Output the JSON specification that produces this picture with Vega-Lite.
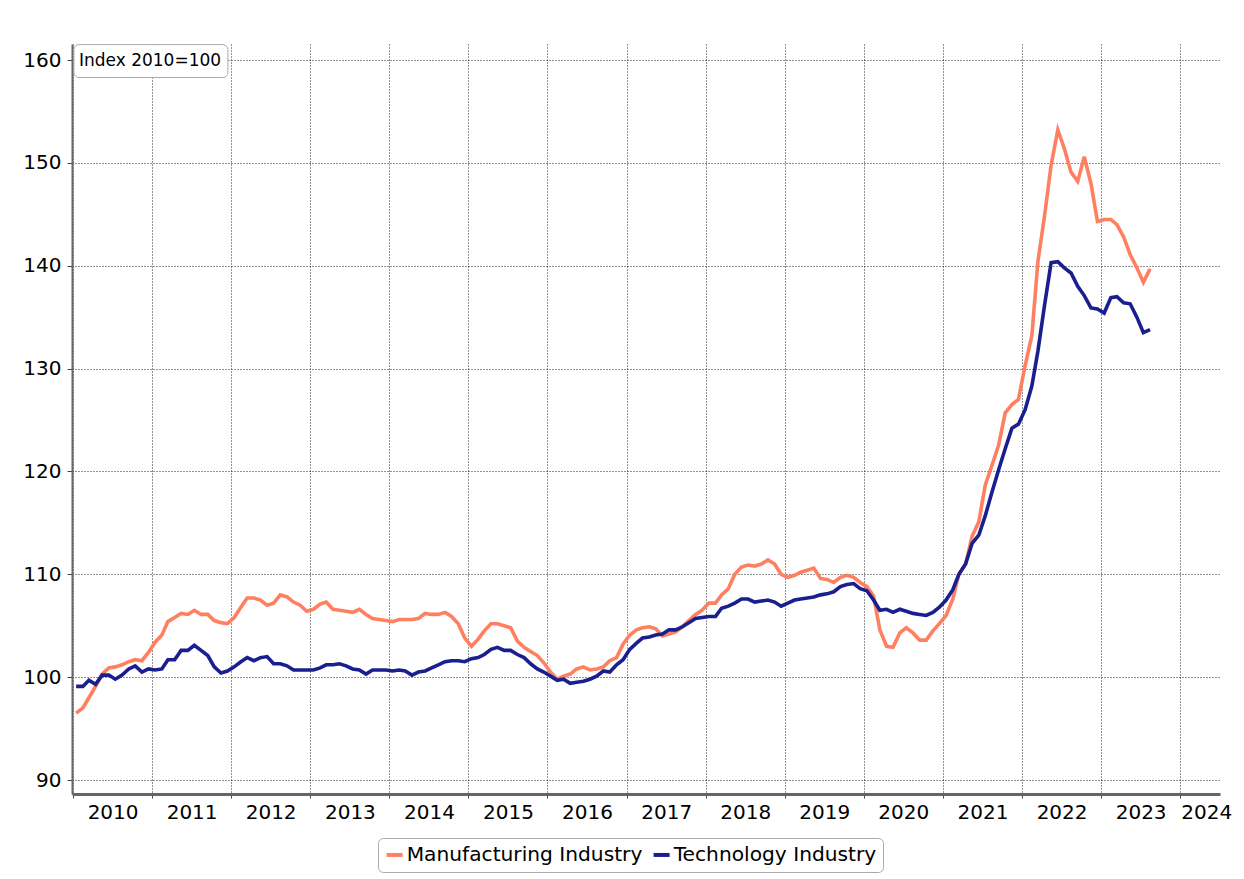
{
 "$schema": "https://vega.github.io/schema/vega-lite/v6.json",
 "width": 1148, "height": 750,
 "autosize": {"type": "none"},
 "padding": {"left": 72, "top": 44, "right": 24, "bottom": 85},
 "background": "white",
 "config": {"font": "DejaVu Sans", "view": {"stroke": null}},
 "data": {"values": [
{"date":"2010-01-15","Manufacturing Industry":96.5,"Technology Industry":99.1},
{"date":"2010-02-15","Manufacturing Industry":97.0,"Technology Industry":99.1},
{"date":"2010-03-15","Manufacturing Industry":98.0,"Technology Industry":99.7},
{"date":"2010-04-15","Manufacturing Industry":99.1,"Technology Industry":99.3},
{"date":"2010-05-15","Manufacturing Industry":100.3,"Technology Industry":100.2},
{"date":"2010-06-15","Manufacturing Industry":100.9,"Technology Industry":100.2},
{"date":"2010-07-15","Manufacturing Industry":101.0,"Technology Industry":99.8},
{"date":"2010-08-15","Manufacturing Industry":101.2,"Technology Industry":100.2},
{"date":"2010-09-15","Manufacturing Industry":101.5,"Technology Industry":100.8},
{"date":"2010-10-15","Manufacturing Industry":101.7,"Technology Industry":101.1},
{"date":"2010-11-15","Manufacturing Industry":101.6,"Technology Industry":100.5},
{"date":"2010-12-15","Manufacturing Industry":102.4,"Technology Industry":100.8},
{"date":"2011-01-15","Manufacturing Industry":103.4,"Technology Industry":100.7},
{"date":"2011-02-15","Manufacturing Industry":104.1,"Technology Industry":100.8},
{"date":"2011-03-15","Manufacturing Industry":105.4,"Technology Industry":101.7},
{"date":"2011-04-15","Manufacturing Industry":105.8,"Technology Industry":101.7},
{"date":"2011-05-15","Manufacturing Industry":106.2,"Technology Industry":102.6},
{"date":"2011-06-15","Manufacturing Industry":106.1,"Technology Industry":102.6},
{"date":"2011-07-15","Manufacturing Industry":106.5,"Technology Industry":103.1},
{"date":"2011-08-15","Manufacturing Industry":106.1,"Technology Industry":102.6},
{"date":"2011-09-15","Manufacturing Industry":106.1,"Technology Industry":102.1},
{"date":"2011-10-15","Manufacturing Industry":105.5,"Technology Industry":101.0},
{"date":"2011-11-15","Manufacturing Industry":105.3,"Technology Industry":100.4},
{"date":"2011-12-15","Manufacturing Industry":105.2,"Technology Industry":100.6},
{"date":"2012-01-15","Manufacturing Industry":105.8,"Technology Industry":101.0},
{"date":"2012-02-15","Manufacturing Industry":106.8,"Technology Industry":101.5},
{"date":"2012-03-15","Manufacturing Industry":107.7,"Technology Industry":101.9},
{"date":"2012-04-15","Manufacturing Industry":107.7,"Technology Industry":101.6},
{"date":"2012-05-15","Manufacturing Industry":107.5,"Technology Industry":101.9},
{"date":"2012-06-15","Manufacturing Industry":107.0,"Technology Industry":102.0},
{"date":"2012-07-15","Manufacturing Industry":107.2,"Technology Industry":101.3},
{"date":"2012-08-15","Manufacturing Industry":108.0,"Technology Industry":101.3},
{"date":"2012-09-15","Manufacturing Industry":107.8,"Technology Industry":101.1},
{"date":"2012-10-15","Manufacturing Industry":107.3,"Technology Industry":100.7},
{"date":"2012-11-15","Manufacturing Industry":107.0,"Technology Industry":100.7},
{"date":"2012-12-15","Manufacturing Industry":106.4,"Technology Industry":100.7},
{"date":"2013-01-15","Manufacturing Industry":106.6,"Technology Industry":100.7},
{"date":"2013-02-15","Manufacturing Industry":107.1,"Technology Industry":100.9},
{"date":"2013-03-15","Manufacturing Industry":107.3,"Technology Industry":101.2},
{"date":"2013-04-15","Manufacturing Industry":106.6,"Technology Industry":101.2},
{"date":"2013-05-15","Manufacturing Industry":106.5,"Technology Industry":101.3},
{"date":"2013-06-15","Manufacturing Industry":106.4,"Technology Industry":101.1},
{"date":"2013-07-15","Manufacturing Industry":106.3,"Technology Industry":100.8},
{"date":"2013-08-15","Manufacturing Industry":106.6,"Technology Industry":100.7},
{"date":"2013-09-15","Manufacturing Industry":106.1,"Technology Industry":100.3},
{"date":"2013-10-15","Manufacturing Industry":105.7,"Technology Industry":100.7},
{"date":"2013-11-15","Manufacturing Industry":105.6,"Technology Industry":100.7},
{"date":"2013-12-15","Manufacturing Industry":105.5,"Technology Industry":100.7},
{"date":"2014-01-15","Manufacturing Industry":105.4,"Technology Industry":100.6},
{"date":"2014-02-15","Manufacturing Industry":105.6,"Technology Industry":100.7},
{"date":"2014-03-15","Manufacturing Industry":105.6,"Technology Industry":100.6},
{"date":"2014-04-15","Manufacturing Industry":105.6,"Technology Industry":100.2},
{"date":"2014-05-15","Manufacturing Industry":105.7,"Technology Industry":100.5},
{"date":"2014-06-15","Manufacturing Industry":106.2,"Technology Industry":100.6},
{"date":"2014-07-15","Manufacturing Industry":106.1,"Technology Industry":100.9},
{"date":"2014-08-15","Manufacturing Industry":106.1,"Technology Industry":101.2},
{"date":"2014-09-15","Manufacturing Industry":106.3,"Technology Industry":101.5},
{"date":"2014-10-15","Manufacturing Industry":105.9,"Technology Industry":101.6},
{"date":"2014-11-15","Manufacturing Industry":105.2,"Technology Industry":101.6},
{"date":"2014-12-15","Manufacturing Industry":103.8,"Technology Industry":101.5},
{"date":"2015-01-15","Manufacturing Industry":103.0,"Technology Industry":101.8},
{"date":"2015-02-15","Manufacturing Industry":103.7,"Technology Industry":101.9},
{"date":"2015-03-15","Manufacturing Industry":104.5,"Technology Industry":102.2},
{"date":"2015-04-15","Manufacturing Industry":105.2,"Technology Industry":102.7},
{"date":"2015-05-15","Manufacturing Industry":105.2,"Technology Industry":102.9},
{"date":"2015-06-15","Manufacturing Industry":105.0,"Technology Industry":102.6},
{"date":"2015-07-15","Manufacturing Industry":104.8,"Technology Industry":102.6},
{"date":"2015-08-15","Manufacturing Industry":103.5,"Technology Industry":102.2},
{"date":"2015-09-15","Manufacturing Industry":102.9,"Technology Industry":101.9},
{"date":"2015-10-15","Manufacturing Industry":102.5,"Technology Industry":101.3},
{"date":"2015-11-15","Manufacturing Industry":102.1,"Technology Industry":100.8},
{"date":"2015-12-15","Manufacturing Industry":101.4,"Technology Industry":100.5},
{"date":"2016-01-15","Manufacturing Industry":100.5,"Technology Industry":100.1},
{"date":"2016-02-15","Manufacturing Industry":99.8,"Technology Industry":99.7},
{"date":"2016-03-15","Manufacturing Industry":100.1,"Technology Industry":99.8},
{"date":"2016-04-15","Manufacturing Industry":100.3,"Technology Industry":99.4},
{"date":"2016-05-15","Manufacturing Industry":100.8,"Technology Industry":99.5},
{"date":"2016-06-15","Manufacturing Industry":101.0,"Technology Industry":99.6},
{"date":"2016-07-15","Manufacturing Industry":100.7,"Technology Industry":99.8},
{"date":"2016-08-15","Manufacturing Industry":100.8,"Technology Industry":100.1},
{"date":"2016-09-15","Manufacturing Industry":101.0,"Technology Industry":100.6},
{"date":"2016-10-15","Manufacturing Industry":101.6,"Technology Industry":100.5},
{"date":"2016-11-15","Manufacturing Industry":101.9,"Technology Industry":101.2},
{"date":"2016-12-15","Manufacturing Industry":103.2,"Technology Industry":101.7},
{"date":"2017-01-15","Manufacturing Industry":104.1,"Technology Industry":102.7},
{"date":"2017-02-15","Manufacturing Industry":104.6,"Technology Industry":103.3},
{"date":"2017-03-15","Manufacturing Industry":104.8,"Technology Industry":103.8},
{"date":"2017-04-15","Manufacturing Industry":104.9,"Technology Industry":103.9},
{"date":"2017-05-15","Manufacturing Industry":104.7,"Technology Industry":104.1},
{"date":"2017-06-15","Manufacturing Industry":104.0,"Technology Industry":104.2},
{"date":"2017-07-15","Manufacturing Industry":104.2,"Technology Industry":104.6},
{"date":"2017-08-15","Manufacturing Industry":104.4,"Technology Industry":104.6},
{"date":"2017-09-15","Manufacturing Industry":104.9,"Technology Industry":104.9},
{"date":"2017-10-15","Manufacturing Industry":105.5,"Technology Industry":105.3},
{"date":"2017-11-15","Manufacturing Industry":106.1,"Technology Industry":105.7},
{"date":"2017-12-15","Manufacturing Industry":106.5,"Technology Industry":105.8},
{"date":"2018-01-15","Manufacturing Industry":107.2,"Technology Industry":105.9},
{"date":"2018-02-15","Manufacturing Industry":107.2,"Technology Industry":105.9},
{"date":"2018-03-15","Manufacturing Industry":108.0,"Technology Industry":106.7},
{"date":"2018-04-15","Manufacturing Industry":108.6,"Technology Industry":106.9},
{"date":"2018-05-15","Manufacturing Industry":110.0,"Technology Industry":107.2},
{"date":"2018-06-15","Manufacturing Industry":110.7,"Technology Industry":107.6},
{"date":"2018-07-15","Manufacturing Industry":110.9,"Technology Industry":107.6},
{"date":"2018-08-15","Manufacturing Industry":110.8,"Technology Industry":107.3},
{"date":"2018-09-15","Manufacturing Industry":111.0,"Technology Industry":107.4},
{"date":"2018-10-15","Manufacturing Industry":111.4,"Technology Industry":107.5},
{"date":"2018-11-15","Manufacturing Industry":111.0,"Technology Industry":107.3},
{"date":"2018-12-15","Manufacturing Industry":110.0,"Technology Industry":106.9},
{"date":"2019-01-15","Manufacturing Industry":109.7,"Technology Industry":107.2},
{"date":"2019-02-15","Manufacturing Industry":109.9,"Technology Industry":107.5},
{"date":"2019-03-15","Manufacturing Industry":110.2,"Technology Industry":107.6},
{"date":"2019-04-15","Manufacturing Industry":110.4,"Technology Industry":107.7},
{"date":"2019-05-15","Manufacturing Industry":110.6,"Technology Industry":107.8},
{"date":"2019-06-15","Manufacturing Industry":109.6,"Technology Industry":108.0},
{"date":"2019-07-15","Manufacturing Industry":109.5,"Technology Industry":108.1},
{"date":"2019-08-15","Manufacturing Industry":109.2,"Technology Industry":108.3},
{"date":"2019-09-15","Manufacturing Industry":109.7,"Technology Industry":108.8},
{"date":"2019-10-15","Manufacturing Industry":109.9,"Technology Industry":109.0},
{"date":"2019-11-15","Manufacturing Industry":109.7,"Technology Industry":109.1},
{"date":"2019-12-15","Manufacturing Industry":109.2,"Technology Industry":108.6},
{"date":"2020-01-15","Manufacturing Industry":108.8,"Technology Industry":108.4},
{"date":"2020-02-15","Manufacturing Industry":107.9,"Technology Industry":107.5},
{"date":"2020-03-15","Manufacturing Industry":104.6,"Technology Industry":106.5},
{"date":"2020-04-15","Manufacturing Industry":103.0,"Technology Industry":106.6},
{"date":"2020-05-15","Manufacturing Industry":102.9,"Technology Industry":106.3},
{"date":"2020-06-15","Manufacturing Industry":104.3,"Technology Industry":106.6},
{"date":"2020-07-15","Manufacturing Industry":104.8,"Technology Industry":106.4},
{"date":"2020-08-15","Manufacturing Industry":104.3,"Technology Industry":106.2},
{"date":"2020-09-15","Manufacturing Industry":103.6,"Technology Industry":106.1},
{"date":"2020-10-15","Manufacturing Industry":103.6,"Technology Industry":106.0},
{"date":"2020-11-15","Manufacturing Industry":104.5,"Technology Industry":106.3},
{"date":"2020-12-15","Manufacturing Industry":105.2,"Technology Industry":106.8},
{"date":"2021-01-15","Manufacturing Industry":106.0,"Technology Industry":107.5},
{"date":"2021-02-15","Manufacturing Industry":107.6,"Technology Industry":108.5},
{"date":"2021-03-15","Manufacturing Industry":110.0,"Technology Industry":110.0},
{"date":"2021-04-15","Manufacturing Industry":111.0,"Technology Industry":111.0},
{"date":"2021-05-15","Manufacturing Industry":113.7,"Technology Industry":113.0},
{"date":"2021-06-15","Manufacturing Industry":115.1,"Technology Industry":113.8},
{"date":"2021-07-15","Manufacturing Industry":118.7,"Technology Industry":115.7},
{"date":"2021-08-15","Manufacturing Industry":120.6,"Technology Industry":118.0},
{"date":"2021-09-15","Manufacturing Industry":122.6,"Technology Industry":120.2},
{"date":"2021-10-15","Manufacturing Industry":125.7,"Technology Industry":122.2},
{"date":"2021-11-15","Manufacturing Industry":126.5,"Technology Industry":124.2},
{"date":"2021-12-15","Manufacturing Industry":127.0,"Technology Industry":124.6},
{"date":"2022-01-15","Manufacturing Industry":130.3,"Technology Industry":126.0},
{"date":"2022-02-15","Manufacturing Industry":133.2,"Technology Industry":128.3},
{"date":"2022-03-15","Manufacturing Industry":140.4,"Technology Industry":131.7},
{"date":"2022-04-15","Manufacturing Industry":144.9,"Technology Industry":136.2},
{"date":"2022-05-15","Manufacturing Industry":149.8,"Technology Industry":140.3},
{"date":"2022-06-15","Manufacturing Industry":153.2,"Technology Industry":140.4},
{"date":"2022-07-15","Manufacturing Industry":151.4,"Technology Industry":139.8},
{"date":"2022-08-15","Manufacturing Industry":149.1,"Technology Industry":139.3},
{"date":"2022-09-15","Manufacturing Industry":148.2,"Technology Industry":138.0},
{"date":"2022-10-15","Manufacturing Industry":150.6,"Technology Industry":137.1},
{"date":"2022-11-15","Manufacturing Industry":148.0,"Technology Industry":135.9},
{"date":"2022-12-15","Manufacturing Industry":144.3,"Technology Industry":135.8},
{"date":"2023-01-15","Manufacturing Industry":144.5,"Technology Industry":135.4},
{"date":"2023-02-15","Manufacturing Industry":144.5,"Technology Industry":136.9},
{"date":"2023-03-15","Manufacturing Industry":144.0,"Technology Industry":137.0},
{"date":"2023-04-15","Manufacturing Industry":142.8,"Technology Industry":136.4},
{"date":"2023-05-15","Manufacturing Industry":141.1,"Technology Industry":136.3},
{"date":"2023-06-15","Manufacturing Industry":139.8,"Technology Industry":135.0},
{"date":"2023-07-15","Manufacturing Industry":138.4,"Technology Industry":133.5},
{"date":"2023-08-15","Manufacturing Industry":139.7,"Technology Industry":133.8}
 ]},
 "layer": [
  {
   "transform": [{"fold": ["Manufacturing Industry", "Technology Industry"], "as": ["series", "value"]}],
   "mark": {"type": "line", "strokeWidth": 3.6},
   "encoding": {
    "x": {"field": "date", "type": "temporal",
      "scale": {"domain": [{"year": 2009, "month": 12, "date": 27}, {"year": 2024, "month": 7, "date": 3}]},
      "axis": {"title": null,
        "values": [{"year":2010},{"year":2011},{"year":2012},{"year":2013},{"year":2014},{"year":2015},{"year":2016},{"year":2017},{"year":2018},{"year":2019},{"year":2020},{"year":2021},{"year":2022},{"year":2023},{"year":2024}],
        "format": "%Y",
        "labelOffset": {"condition": {"test": "year(datum.value) == 2024", "value": 26}, "value": 39.5},
        "labelFlush": false, "labelOverlap": false, "labelBound": false,
        "labelFontSize": 20, "labelColor": "#000", "labelPadding": 4,
        "tickSize": 4, "tickColor": "#444", "tickWidth": 1,
        "domainColor": "#666", "domainWidth": 3,
        "grid": true, "gridColor": "#000", "gridOpacity": 0.85, "gridDash": [1, 2], "gridWidth": 1}},
    "y": {"field": "value", "type": "quantitative",
      "scale": {"domain": [88.64, 161.56], "nice": false, "zero": false},
      "axis": {"title": null, "values": [90, 100, 110, 120, 130, 140, 150, 160],
        "labelFontSize": 20, "labelColor": "#000", "labelPadding": 6,
        "tickSize": 5, "tickColor": "#444", "tickWidth": 1,
        "domainColor": "#666", "domainWidth": 2,
        "grid": true, "gridColor": "#000", "gridOpacity": 0.85, "gridDash": [1, 2], "gridWidth": 1}},
    "color": {"field": "series", "type": "nominal",
      "scale": {"domain": ["Manufacturing Industry", "Technology Industry"], "range": ["#ff8060", "#1a1f8f"]},
      "legend": {"orient": "none", "legendX": 306, "legendY": 794, "direction": "horizontal", "title": null,
        "symbolType": "stroke", "symbolStrokeWidth": 4, "symbolSize": 256,
        "labelFontSize": 20.2, "labelColor": "#000", "labelLimit": 400, "labelOffset": 2, "columnPadding": 3,
        "strokeColor": "#aaa", "cornerRadius": 5, "padding": 6.5, "fillColor": "white"}}
   }
  },
  {
   "data": {"values": [{}]},
   "mark": {"type": "rect", "fill": "white", "stroke": "#aaa", "strokeWidth": 1, "cornerRadius": 5},
   "encoding": {
    "x": {"datum": {"year": 2010, "month": 1, "date": 5}, "type": "temporal"},
    "x2": {"datum": {"year": 2011, "month": 12, "date": 17}},
    "y": {"datum": 161.5, "type": "quantitative"},
    "y2": {"datum": 158.3}
   }
  },
  {
   "data": {"values": [{}]},
   "mark": {"type": "text", "align": "left", "baseline": "middle", "fontSize": 17, "color": "#000"},
   "encoding": {
    "x": {"datum": {"year": 2010, "month": 1, "date": 28}, "type": "temporal"},
    "y": {"datum": 159.9, "type": "quantitative"},
    "text": {"value": "Index 2010=100"}
   }
  }
 ]
}
